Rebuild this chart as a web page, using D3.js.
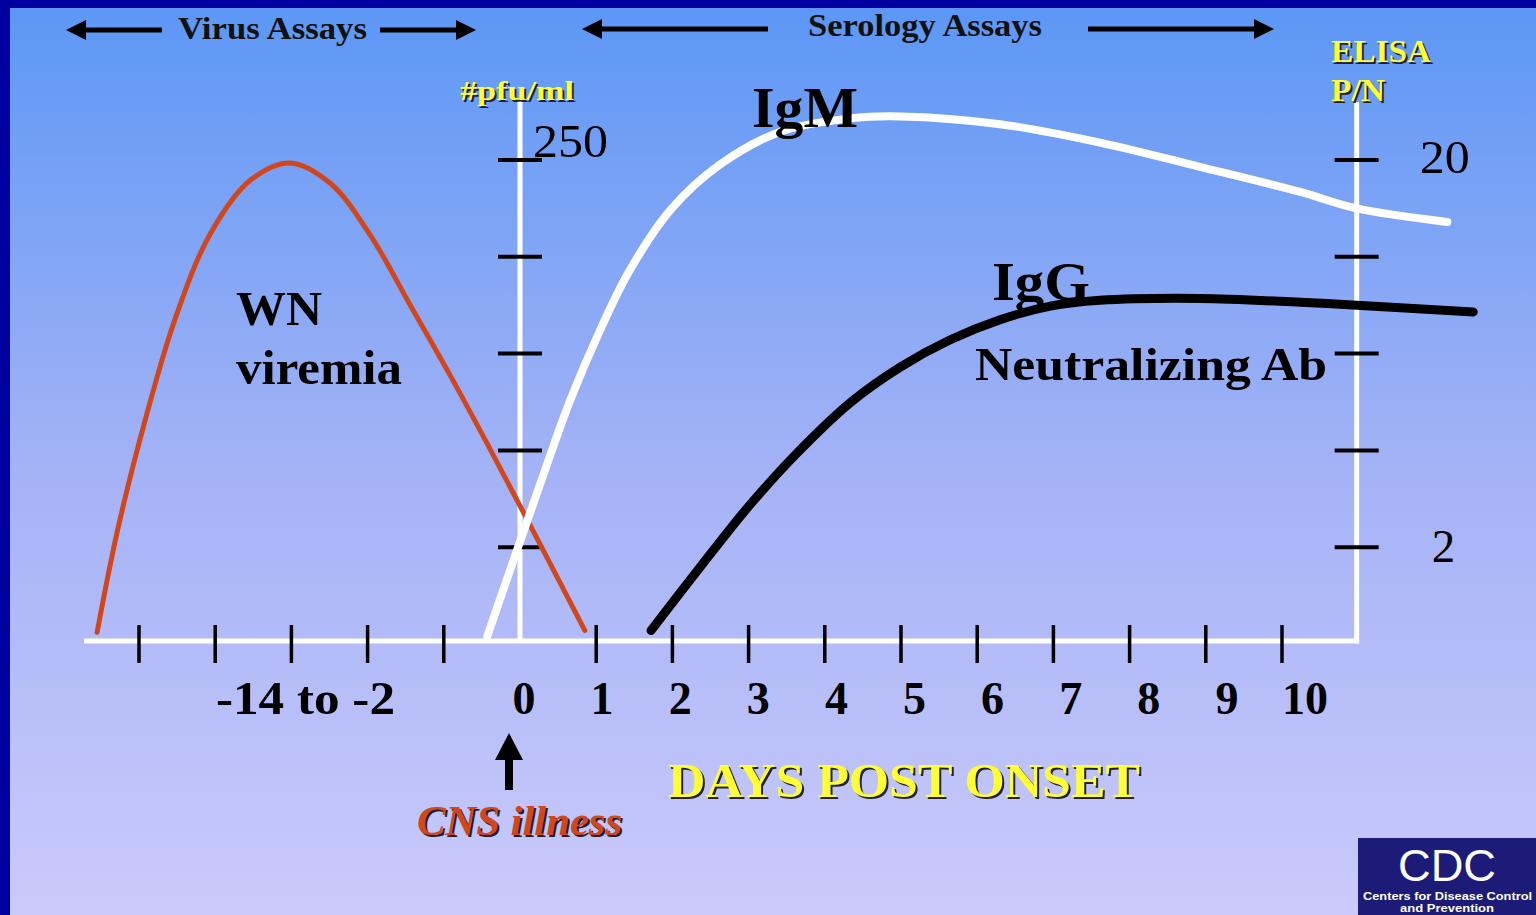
<!DOCTYPE html>
<html lang="en">
<head>
    <meta charset="UTF-8">
    <title>West Nile virus – assay timeline</title>
    <script src="https://d3js.org/d3.v7.min.js"></script>
    <style>
        body, html { margin: 0; padding: 0; overflow: hidden; background: #0000a0; }
        svg { display: block; }
        .serif { font-family: "Liberation Serif", "Times New Roman", serif; }
        .sans { font-family: "Liberation Sans", Arial, sans-serif; }
    </style>
</head>
<body>
<script>
    // ---- data (days post onset, arbitrary level units 0..5 on the tick grid) ----
    const viremiaDays = [-5.55, -5.28, -4.92, -4.53, -4.07, -3.54, -3.02, -2.49, -1.97, -1.44, -0.92, -0.37, 0.29, 0.85];
    const viremiaVals = [0.12, 1.18, 2.31, 3.35, 4.23, 4.79, 4.97, 4.76, 4.23, 3.50, 2.78, 1.98, 0.99, 0.14];

    const igmDays = [-0.43, -0.03, 0.33, 0.66, 1.05, 1.44, 1.97, 2.62, 3.41, 4.33, 4.99, 6.30, 7.61, 8.92, 10.24, 10.98, 12.17];
    const igmVals = [0.08, 0.99, 1.80, 2.52, 3.24, 3.86, 4.48, 4.95, 5.29, 5.43, 5.45, 5.37, 5.18, 4.93, 4.67, 4.50, 4.36];

    const iggDays = [1.72, 2.36, 3.02, 3.67, 4.33, 4.99, 5.64, 6.30, 6.96, 7.61, 8.92, 10.24, 10.98, 12.51];
    const iggVals = [0.14, 0.79, 1.44, 2.00, 2.49, 2.86, 3.14, 3.35, 3.49, 3.55, 3.57, 3.53, 3.50, 3.43];

    const preOnsetTicks = [-5, -4, -3, -2, -1];
    const dayTicks = [1, 2, 3, 4, 5, 6, 7, 8, 9, 10];
    const dayLabels = ["0", "1", "2", "3", "4", "5", "6", "7", "8", "9", "10"];
    const levelTicks = [1, 2, 3, 4, 5];

    const width = 1536, height = 915;

    const svg = d3.select("body").append("svg")
        .attr("width", width)
        .attr("height", height);

    // gradient backdrop
    const defs = svg.append("defs");
    const grad = defs.append("linearGradient").attr("id", "bg")
        .attr("x1", 0).attr("y1", 0).attr("x2", 0).attr("y2", 1);
    grad.append("stop").attr("offset", "0%").attr("stop-color", "#5c97f5");
    grad.append("stop").attr("offset", "50%").attr("stop-color", "#a3b2f6");
    grad.append("stop").attr("offset", "100%").attr("stop-color", "#cacafb");

    svg.append("rect").attr("width", width).attr("height", height).attr("fill", "#0000a0");
    svg.append("rect").attr("x", 10).attr("y", 8).attr("width", width - 10).attr("height", height - 8)
        .attr("fill", "url(#bg)");

    // scales
    const x = d3.scaleLinear().domain([0, 10]).range([520, 1282]);
    const xLab = d3.scaleLinear().domain([0, 10]).range([524, 1305]);
    const y = d3.scaleLinear().domain([0, 5]).range([644, 160]);

    const axisY = y(0) - 3;
    const axisTop = y(5.6);

    // helper: serif text stretched to the width seen on the slide
    function label(parent, tx, ty, size, str, opts = {}) {
        const t = parent.append("text")
            .attr("class", opts.cls || "serif")
            .attr("x", tx).attr("y", ty)
            .attr("font-size", size)
            .attr("font-weight", opts.weight || "bold")
            .attr("fill", opts.fill || "#000")
            .text(str);
        if (opts.anchor) t.attr("text-anchor", opts.anchor);
        if (opts.italic) t.attr("font-style", "italic");
        if (opts.len) t.attr("textLength", opts.len).attr("lengthAdjust", "spacingAndGlyphs");
        return t;
    }

    // white axis frame
    const frame = svg.append("g").attr("stroke", "#fff").attr("stroke-width", 5).attr("fill", "none");
    frame.append("line").attr("x1", x(-5.72)).attr("x2", x(10.98) + 2.5).attr("y1", axisY).attr("y2", axisY);
    frame.append("line").attr("x1", x(0)).attr("x2", x(0)).attr("y1", axisTop).attr("y2", axisY);
    frame.append("line").attr("x1", x(10.98)).attr("x2", x(10.98)).attr("y1", axisTop).attr("y2", axisY + 2.5);

    // x ticks
    svg.append("g").selectAll("line")
        .data(preOnsetTicks.concat(dayTicks))
        .join("line")
        .attr("x1", d => x(d)).attr("x2", d => x(d))
        .attr("y1", axisY - 16).attr("y2", axisY + 22)
        .attr("stroke", "#000").attr("stroke-width", 3.5);

    // y ticks, both sides
    [x(0), x(10.98)].forEach(cx => {
        svg.append("g").selectAll("line")
            .data(levelTicks)
            .join("line")
            .attr("x1", cx - 22).attr("x2", cx + 22)
            .attr("y1", d => y(d)).attr("y2", d => y(d))
            .attr("stroke", "#000").attr("stroke-width", 4);
    });

    // x labels
    svg.append("g").selectAll("text")
        .data(dayLabels)
        .join("text")
        .attr("class", "serif")
        .attr("x", (d, i) => xLab(i))
        .attr("y", 714)
        .attr("text-anchor", "middle")
        .attr("font-size", 46).attr("font-weight", "bold")
        .text(d => d);
    label(svg, 216, 714, 46, "-14 to -2", { len: 179 });

    // y tick labels
    label(svg, x(0) + 13, y(5) - 3, 47, "250", { weight: "normal", len: 75 });
    label(svg, x(10.98) + 63, y(5) + 13, 47, "20", { weight: "normal", len: 50 });
    label(svg, x(10.98) + 75, y(1) + 15, 47, "2", { weight: "normal" });

    // curves
    const line = d3.line().x(d => x(d[0])).y(d => y(d[1])).curve(d3.curveCatmullRom);
    const series = [
        { days: viremiaDays, vals: viremiaVals, color: "#d2461c", w: 5 },
        { days: igmDays, vals: igmVals, color: "#ffffff", w: 8 },
        { days: iggDays, vals: iggVals, color: "#000000", w: 9 }
    ];
    series.forEach(s => {
        svg.append("path")
            .datum(d3.zip(s.days, s.vals))
            .attr("d", line)
            .attr("fill", "none")
            .attr("stroke", s.color)
            .attr("stroke-width", s.w)
            .attr("stroke-linecap", "round");
    });

    // curve labels
    label(svg, 236, 325, 48, "WN", { len: 86 });
    label(svg, 236, 384, 48, "viremia", { len: 166 });
    label(svg, 752, 127, 57, "IgM", { len: 106 });
    label(svg, 992, 300, 54, "IgG", { len: 98 });
    label(svg, 975, 380, 46, "Neutralizing Ab", { len: 352 });

    // shadowed text
    function shadowText(tx, ty, size, str, fill, opts = {}) {
        const g = svg.append("g");
        label(g, tx + 2, ty + 2, size, str, Object.assign({}, opts, { fill: "#202030" }));
        label(g, tx, ty, size, str, Object.assign({}, opts, { fill: fill }));
        return g;
    }
    shadowText(460, 100, 28, "#pfu/ml", "#ffff33", { len: 114 });
    shadowText(1331, 62, 32, "ELISA", "#ffff33", { len: 100 });
    shadowText(1331, 101, 32, "P/N", "#ffff33", { len: 54 });
    shadowText(668, 797, 48, "DAYS POST ONSET", "#ffff33", { len: 472 });
    shadowText(417, 835, 42, "CNS illness", "#d2461c", { italic: true, len: 205 });

    // assay-range arrows
    defs.append("marker").attr("id", "head")
        .attr("viewBox", "0 0 10 10").attr("refX", 5).attr("refY", 5)
        .attr("markerWidth", 4).attr("markerHeight", 4)
        .attr("orient", "auto-start-reverse")
        .append("path").attr("d", "M0,0 L10,5 L0,10 z").attr("fill", "#000");

    const arrows = [[162, 76, 30], [380, 466, 30], [768, 592, 29], [1088, 1264, 29]];
    arrows.forEach(([a, b, ay]) => {
        svg.append("line").attr("x1", a).attr("x2", b).attr("y1", ay).attr("y2", ay)
            .attr("stroke", "#000").attr("stroke-width", 5).attr("marker-end", "url(#head)");
    });
    label(svg, 178, 39, 32, "Virus Assays", { fill: "#111", len: 189 });
    label(svg, 808, 36, 31, "Serology Assays", { fill: "#111", len: 234 });

    // onset arrow
    svg.append("line").attr("x1", 509).attr("x2", 509).attr("y1", 790).attr("y2", 752)
        .attr("stroke", "#000").attr("stroke-width", 8);
    svg.append("path").attr("d", "M495,760 L509,733 L523,760 Z").attr("fill", "#000");

    // CDC logo
    const logo = svg.append("g").attr("transform", "translate(1358,838)");
    logo.append("rect").attr("width", 178).attr("height", 77).attr("fill", "#1c1c78");
    label(logo, 40, 43, 44, "CDC", { cls: "sans", weight: "normal", fill: "#fff", len: 98 });
    label(logo, 5, 62, 10, "Centers for Disease Control", { cls: "sans", fill: "#fff", len: 169 });
    label(logo, 42, 74, 10, "and Prevention", { cls: "sans", fill: "#fff", len: 94 });
</script>
</body>
</html>
